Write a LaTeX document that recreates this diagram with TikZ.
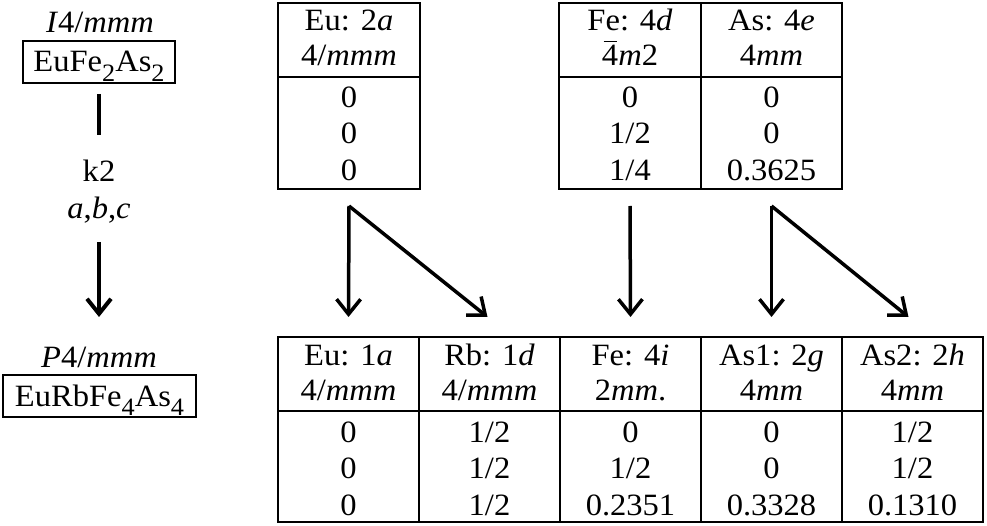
\documentclass[tikz,border=0pt]{standalone}
\usepackage{fontspec}
\setmainfont{Liberation Serif}[FakeStretch=1.05]
\usetikzlibrary{arrows.meta}
\newcommand{\sbs}[1]{\raisebox{-0.3em}{\fontsize{25}{25}\selectfont #1}}
\newcommand{\ibar}[1]{\leavevmode\rlap{\hspace{0.05em}\rule[0.76em]{0.42em}{1.3pt}}#1}
\newcommand{\sitetext}[8]{%
  \node[txt] (#1h1) at (#2,#3+28) {#4};
  \node[txt] (#1h2) at (#2,#3+63) {#5};
  \node[txt] (#1v1) at (#2,#3+105) {#6};
  \node[txt] (#1v2) at (#2,#3+141) {#7};
  \node[txt] (#1v3) at (#2,#3+178) {#8};
}
\begin{document}
\begin{tikzpicture}[x=1pt,y=-1pt,
  every node/.style={font=\fontsize{31}{36}\selectfont, inner sep=0pt, outer sep=0pt},
  txt/.style={anchor=base},
  colbox/.style 2 args={draw, line width=2pt, minimum width=#1, minimum height=#2, anchor=north west},
  fbox/.style 2 args={draw, line width=2pt, minimum width=#1, minimum height=#2, text height=21pt, text depth=1pt},
  tbl/.style={line width=2pt},
  arr/.style={line width=3.5pt, -{Straight Barb[length=15pt,width=24pt]}},
  bar/.style={line width=4pt}]
\useasboundingbox (0,0) rectangle (987,526);

% left column
\node[txt] (sg1) at (100,33) {\textit{I}4/\textit{mmm}};
\node[fbox={152pt}{42pt}] (f1) at (99,62) {EuFe\sbs{2}As\sbs{2}};
\node[txt] (k2) at (99,182) {k2};
\node[txt] (abc) at (99,219) {\textit{a},\textit{b},\textit{c}};
\node[txt] (sg2) at (99,367) {\textit{P}4/\textit{mmm}};
\node[fbox={193pt}{42pt}] (f2) at (99.5,396) {EuRbFe\sbs{4}As\sbs{4}};
\coordinate (l1a) at (99,94);
\coordinate (l1b) at (99,135);
\coordinate (l2a) at (99,242);
\coordinate (l2b) at (99,317);
\draw[bar] (l1a) -- (l1b);
\draw[arr, line width=4pt] (l2a) -- (l2b);

% top tables
\node[colbox={142pt}{186pt}] (euT) at (278,3) {};
\node[colbox={142pt}{186pt}] (feT) at (559,3) {};
\node[colbox={141pt}{186pt}] (asT) at (701,3) {};
\draw[tbl] ([yshift=-74pt]euT.north west) -- ([yshift=-74pt]euT.north east);
\draw[tbl] ([yshift=-74pt]feT.north west) -- ([yshift=-74pt]asT.north east);
\sitetext{eut}{349}{3}{Eu: 2\textit{a}}{4/\textit{mmm}}{0}{0}{0}
\sitetext{fet}{630}{3}{Fe: 4\textit{d}}{\ibar{4}\textit{m}2}{0}{1/2}{1/4}
\sitetext{ast}{771.5}{3}{As: 4\textit{e}}{4\textit{mm}}{0}{0}{0.3625}

% bottom table
\node[colbox={141pt}{185pt}] (euB) at (278,337) {};
\node[colbox={141pt}{185pt}] (rbB) at (419,337) {};
\node[colbox={141pt}{185pt}] (feB) at (560,337) {};
\node[colbox={141pt}{185pt}] (as1B) at (701,337) {};
\node[colbox={141pt}{185pt}] (as2B) at (842,337) {};
\draw[tbl] ([yshift=-74pt]euB.north west) -- ([yshift=-74pt]as2B.north east);
\sitetext{eub}{348.5}{337}{Eu: 1\textit{a}}{4/\textit{mmm}}{0}{0}{0}
\sitetext{rbb}{489.5}{337}{Rb: 1\textit{d}}{4/\textit{mmm}}{1/2}{1/2}{1/2}
\sitetext{feb}{630.5}{337}{Fe: 4\textit{i}}{2\textit{mm}.}{0}{1/2}{0.2351}
\sitetext{as1b}{771.5}{337}{As1: 2\textit{g}}{4\textit{mm}}{0}{0}{0.3328}
\sitetext{as2b}{912.5}{337}{As2: 2\textit{h}}{4\textit{mm}}{1/2}{1/2}{0.1310}

% arrows
\coordinate (euS) at ([yshift=-17pt]euT.south);
\coordinate (feS) at ([yshift=-17pt]feT.south);
\coordinate (asS) at ([yshift=-17pt]asT.south);
\coordinate (euE) at ([yshift=20pt]euB.north);
\coordinate (rbE) at ([xshift=-2pt,yshift=20pt]rbB.north);
\coordinate (feE) at ([yshift=20pt]feB.north);
\coordinate (as1E) at ([yshift=20pt]as1B.north);
\coordinate (as2E) at ([xshift=-4pt,yshift=20pt]as2B.north);
\draw[arr] (euS) -- (euE);
\draw[arr] (euS) -- (rbE);
\draw[arr] (feS) -- (feE);
\draw[arr] (asS) -- (as1E);
\draw[arr] (asS) -- (as2E);
\end{tikzpicture}
\end{document}
